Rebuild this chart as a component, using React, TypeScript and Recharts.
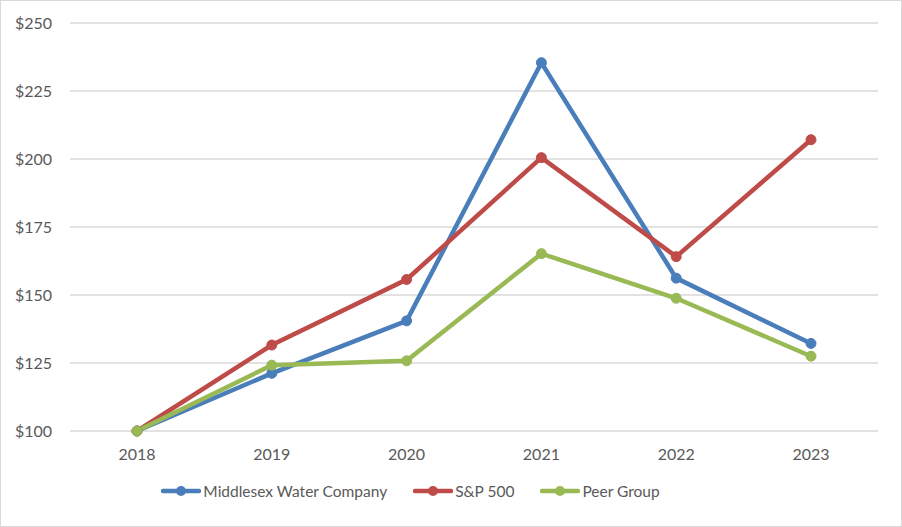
import React from 'react';
import { LineChart, Line, XAxis, YAxis, CartesianGrid, Legend } from 'recharts';

const years = ['2018', '2019', '2020', '2021', '2022', '2023'];
const middlesex = [100, 121.2, 140.5, 235.4, 156.2, 132.2];
const sp500 = [100, 131.6, 155.7, 200.5, 164.1, 207.1];
const peerGroup = [100, 124.2, 125.8, 165.2, 148.8, 127.5];
const yTicks = [100, 125, 150, 175, 200, 225, 250];

const seriesInfo = [
  { key: 'middlesex', name: 'Middlesex Water Company', color: '#4a7ebb' },
  { key: 'sp500', name: 'S&P 500', color: '#be4b48' },
  { key: 'peer', name: 'Peer Group', color: '#98b954' },
];

const data = years.map((year, i) => ({
  year,
  middlesex: middlesex[i],
  sp500: sp500[i],
  peer: peerGroup[i],
}));

const font = 'Lato, "Open Sans", sans-serif';

const LegendContent = () => (
  <div style={{ display: 'flex', justifyContent: 'center', alignItems: 'center', fontFamily: font, fontSize: 15.5, color: '#595959', paddingRight: 58 }}>
    {seriesInfo.map((s) => (
      <div key={s.key} style={{ display: 'flex', alignItems: 'center', margin: '0 13px' }}>
        <svg width={40} height={12} style={{ marginRight: 2 }}>
          <line x1={2} y1={6} x2={38} y2={6} stroke={s.color} strokeWidth={4.5} strokeLinecap="round" />
          <circle cx={20} cy={6} r={5} fill={s.color} />
        </svg>
        <span>{s.name}</span>
      </div>
    ))}
  </div>
);

const App: React.FC = () => {
  return (
    <div style={{ position: 'absolute', left: 0, top: 0, width: 902, height: 527, border: '1px solid #d9d9d9', boxSizing: 'border-box', background: '#fff' }}>
      <LineChart width={900} height={525} data={data} margin={{ top: 22, right: 23, bottom: 37, left: 0 }}>
        <CartesianGrid horizontal vertical={false} stroke="#d9d9d9" strokeWidth={1.5} />
        <XAxis
          dataKey="year"
          axisLine={false}
          tickLine={false}
          padding={{ left: 67, right: 67 }}
          tick={{ fill: '#595959', fontSize: 16, fontFamily: font }}
          tickMargin={12}
          height={40}
        />
        <YAxis
          domain={[100, 250]}
          ticks={yTicks}
          axisLine={false}
          tickLine={false}
          width={69}
          tickMargin={12}
          tickFormatter={(v: number) => `$${v}`}
          tick={{ fill: '#595959', fontSize: 16, fontFamily: font }}
        />
        <Legend verticalAlign="bottom" content={<LegendContent />} wrapperStyle={{ bottom: 26 }} />
        {seriesInfo.map((s) => (
          <Line
            key={s.key}
            dataKey={s.key}
            name={s.name}
            stroke={s.color}
            strokeWidth={4.5}
            dot={{ r: 5, fill: s.color, stroke: s.color, strokeWidth: 1 }}
            activeDot={false}
            isAnimationActive={false}
          />
        ))}
      </LineChart>
    </div>
  );
};

export default App;
